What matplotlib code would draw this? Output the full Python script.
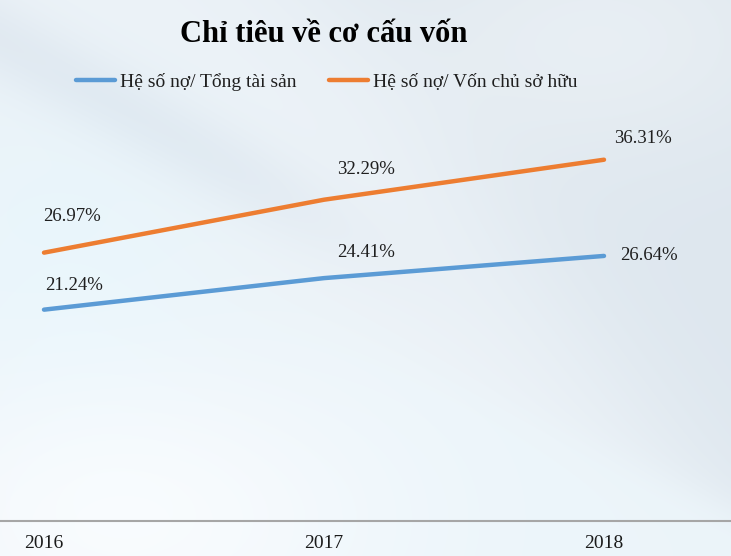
import numpy as np
import matplotlib
matplotlib.use("Agg")
import matplotlib.pyplot as plt

# ---- data ----
years = ["2016", "2017", "2018"]
debt_to_assets = [21.24, 24.41, 26.64]
debt_to_equity = [26.97, 32.29, 36.31]
series_names = ["Hệ số nợ/ Tổng tài sản", "Hệ số nợ/ Vốn chủ sở hữu"]
title = "Chỉ tiêu về cơ cấu vốn"

# ---- style ----
W, H, DPI = 731, 556, 100
blue = "#5B9BD5"
orange = "#ED7D31"
serif = ["Liberation Serif", "DejaVu Serif"]
plt.rcParams["font.family"] = serif

fig = plt.figure(figsize=(W / DPI, H / DPI), dpi=DPI)


def sig(z):
    return 1 / (1 + np.exp(-z))


# background gradient (decorative)
bg = fig.add_axes([0, 0, 1, 1], zorder=0)
yy, xx = np.mgrid[0:H, 0:W].astype(float)
base = np.array([0.925, 0.950, 0.970])
img = np.ones((H, W, 3)) * base
# soft grey-blue diagonal band (upper centre to lower right)
d1 = (xx - 0.75 * yy - 330) / 1.25
band1 = sig(d1 / 40.0)
edge = sig(-(yy - 0.46 * (xx - 480) - 395) / 12.0)
img -= (band1 * edge)[..., None] * np.array([0.055, 0.045, 0.035])
# lighter cyan-white below lower-right edge
img += ((1 - edge) * sig((xx - 300) / 60.0))[..., None] * np.array([0.0, 0.01, 0.01])
# light cyan wash on left-middle
left = np.exp(-(((xx - 60) / 170.0) ** 2 + ((yy - 260) / 170.0) ** 2))
img += left[..., None] * np.array([-0.01, 0.012, 0.015])
# grey diagonal stripe on the upper-left
d2 = (yy - 0.55 * xx - 40)
stripe = np.exp(-(d2 / 45.0) ** 2) * sig((320 - xx) / 50.0)
img -= stripe[..., None] * np.array([0.04, 0.035, 0.025])
# white near bottom-left and title area
bl = np.exp(-(((xx - 120) / 260.0) ** 2 + ((yy - 520) / 160.0) ** 2))
img += bl[..., None] * np.array([0.05, 0.035, 0.025])
tr = np.exp(-(((xx - 600) / 200.0) ** 2 + ((yy - 40) / 120.0) ** 2))
img += tr[..., None] * np.array([0.04, 0.03, 0.02])
img = np.clip(img, 0, 1)
bg.imshow(img, aspect="auto", extent=[0, 1, 0, 1], origin="upper")
bg.set_axis_off()

# main axes
bottom = (H - 521) / H
height = 398 / H
ax = fig.add_axes([0, bottom, 1, height], zorder=1)
ax.patch.set_alpha(0)
x = np.arange(len(years))
l1, = ax.plot(x, debt_to_assets, color=blue, lw=3.2, solid_capstyle="round")
l2, = ax.plot(x, debt_to_equity, color=orange, lw=3.2, solid_capstyle="round")
ax.set_ylim(0, 40)
ax.set_xlim(-44 / 280, 2 + 127 / 280)

for s in ["top", "right", "left"]:
    ax.spines[s].set_visible(False)
ax.spines["bottom"].set_color("#a6a6a6")
ax.spines["bottom"].set_linewidth(1.5)
ax.set_yticks([])
ax.set_xticks(x)
ax.set_xticklabels(years, fontsize=14, color="#1a1a1a")
ax.tick_params(axis="x", length=0, pad=10)

# data labels (offsets in pixels)
off_assets = [(30, 24), (42, 26), (45, 0)]
off_equity = [(28, 36), (42, 30), (39, 21)]
k = 72 / DPI
for xi, v, (dx, dy) in zip(x, debt_to_assets, off_assets):
    ax.annotate(f"{v:.2f}%", (xi, v), xytext=(dx * k, dy * k), textcoords="offset points",
                ha="center", va="center", fontsize=13.5, color="#1f1f1f")
for xi, v, (dx, dy) in zip(x, debt_to_equity, off_equity):
    ax.annotate(f"{v:.2f}%", (xi, v), xytext=(dx * k, dy * k), textcoords="offset points",
                ha="center", va="center", fontsize=13.5, color="#1f1f1f")

fig.text(324 / W, 1 - 42 / H, title, ha="center", va="baseline",
         fontsize=22, fontweight="bold", color="#000000")

fig.legend([l1, l2], series_names, loc="center", bbox_to_anchor=(0.447, 1 - 82 / H),
           ncol=2, frameon=False, fontsize=14, handlelength=2.0, handletextpad=0.25,
           columnspacing=1.7, labelcolor="#1f1f1f")

fig.savefig("out.png", dpi=DPI)
